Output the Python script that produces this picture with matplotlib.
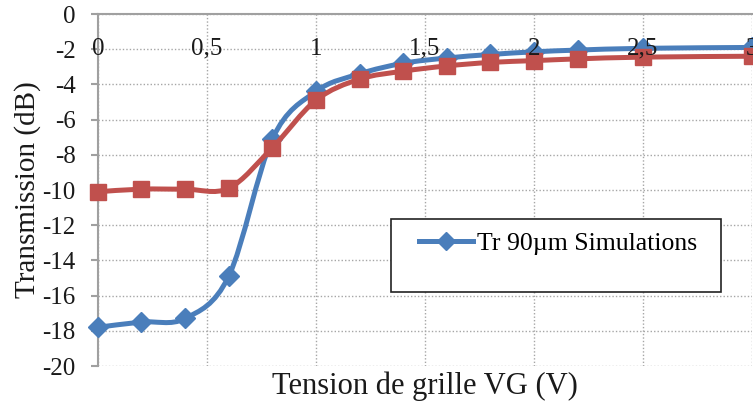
import matplotlib
matplotlib.use("Agg")
import matplotlib.pyplot as plt
import numpy as np
from matplotlib.path import Path
from matplotlib.patches import PathPatch, Rectangle
from matplotlib.lines import Line2D
from matplotlib.ticker import FuncFormatter

# gate voltage (V)
vg = [0, 0.2, 0.4, 0.6, 0.8, 1.0, 1.2, 1.4, 1.6, 1.8, 2.0, 2.2, 2.5, 3.0]
# transmission (dB)
tr_blue = [-17.8, -17.5, -17.3, -14.9, -7.1, -4.4, -3.4, -2.8, -2.5, -2.3, -2.15, -2.05, -1.95, -1.9]
tr_red = [-10.1, -9.95, -9.95, -9.9, -7.6, -4.9, -3.7, -3.25, -2.95, -2.75, -2.65, -2.55, -2.45, -2.4]
legend_label = "Tr 90µm Simulations"

BLUE = "#4A7EBB"
RED = "#C0504D"
TXT = "#1a1a1a"

plt.rcParams['font.family'] = ['Liberation Serif', 'DejaVu Serif']
plt.rcParams['axes.unicode_minus'] = False


def smooth_path(x, y):
    # excel-like smoothed line: cubic bezier through the points (catmull-rom handles)
    x = np.asarray(x, float)
    y = np.asarray(y, float)
    verts = [(x[0], y[0])]
    codes = [Path.MOVETO]
    n = len(x)
    for i in range(n - 1):
        p0 = np.array([x[max(i - 1, 0)], y[max(i - 1, 0)]])
        p1 = np.array([x[i], y[i]])
        p2 = np.array([x[i + 1], y[i + 1]])
        p3 = np.array([x[min(i + 2, n - 1)], y[min(i + 2, n - 1)]])
        c1 = p1 + (p2 - p0) / 6.0
        c2 = p2 - (p3 - p1) / 6.0
        verts += [tuple(c1), tuple(c2), tuple(p2)]
        codes += [Path.CURVE4] * 3
    return Path(verts, codes)


fig = plt.figure(figsize=(7.53, 4.07), dpi=100)
pos = [0.130, 0.1007, 0.8687, 0.8649]
ax = fig.add_axes(pos)

ax.set_xlim(0, 3)
ax.set_ylim(-20, 0)
xt = np.arange(0, 3.01, 0.5)
ax.set_xticks(xt)
ax.set_yticks(np.arange(-20, 0.1, 2))

ax.grid(True, color="#a6a6a6", linestyle=(0, (1, 1.5)), linewidth=1)
ax.set_axisbelow(True)

for s in ["right", "bottom"]:
    ax.spines[s].set_visible(False)
for s in ["left", "top"]:
    ax.spines[s].set_color("#a0a0a0")
    ax.spines[s].set_linewidth(1.5)

ax.xaxis.set_ticks_position("top")
ax.tick_params(axis="x", length=0, labeltop=False, labelbottom=False)
ax.tick_params(axis="y", length=5, width=1.5, color="#a0a0a0", pad=11, labelsize=18, labelcolor=TXT)

lw = 3.6
ax.add_patch(PathPatch(smooth_path(vg, tr_blue), fill=False, edgecolor=BLUE, lw=lw,
                       transform=ax.transData, zorder=3))
ax.plot(vg, tr_blue, linestyle="none", marker="D", markersize=10.5, color=BLUE, zorder=3, clip_on=False)
ax.add_patch(PathPatch(smooth_path(vg, tr_red), fill=False, edgecolor=RED, lw=lw,
                       transform=ax.transData, zorder=4))
ax.plot(vg, tr_red, linestyle="none", marker="s", markersize=11, color=RED, zorder=4, clip_on=False)

ax.set_xlabel("Tension de grille VG (V)", fontsize=22, color=TXT, labelpad=4)
ax.set_ylabel("Transmission (dB)", fontsize=21, color=TXT, labelpad=1)

# legend box (taller than its single entry, as in the original)
ax.add_patch(Rectangle((0.448, 0.2102), 0.5046, 0.2074, transform=ax.transAxes,
                       facecolor="white", edgecolor="#222222", lw=1.2, zorder=5))
h1 = Line2D([], [], color=BLUE, lw=lw, marker="D", markersize=9)
leg = ax.legend([h1], [legend_label], loc="center left", bbox_to_anchor=(0.4908, 0.349),
                fontsize=18.5, frameon=False, handlelength=2.1, handletextpad=0.15,
                borderpad=0, borderaxespad=0)
leg.set_zorder(6)

# x tick labels sit inside the plot, over the curves -> overlay axes
ax2 = fig.add_axes(pos, sharex=ax)
ax2.set_ylim(-20, 0)
ax2.patch.set_visible(False)
for s in ax2.spines.values():
    s.set_visible(False)
ax2.set_yticks([])
ax2.xaxis.set_ticks_position("top")
ax2.set_xticks(xt)
ax2.xaxis.set_major_formatter(FuncFormatter(lambda v, p: ("%g" % v).replace(".", ",")))
ax2.tick_params(axis="x", length=0, pad=-33, labelsize=18, colors=TXT,
                labeltop=True, labelbottom=False)

fig.savefig("out.png", dpi=100)
